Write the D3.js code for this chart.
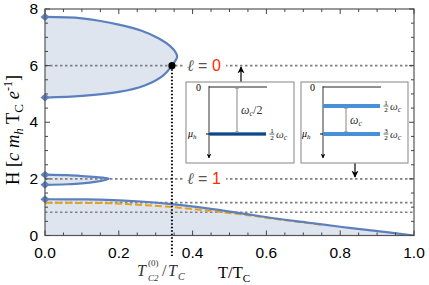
<!DOCTYPE html>
<html><head><meta charset="utf-8">
<script src="https://cdn.jsdelivr.net/npm/d3@7"></script>
<style>body{margin:0;background:#fff}svg{display:block}</style>
</head><body>
<svg id="c" width="429" height="285"></svg>
<script>
// ---- data ----
const xTicks = [0.0, 0.2, 0.4, 0.6, 0.8, 1.0];
const yTicks = [0, 2, 4, 6, 8];
const lobe0T = [0, 0.1, 0.2, 0.26, 0.31, 0.34, 0.355, 0.358, 0.352, 0.344, 0.32, 0.27, 0.2, 0.1, 0];
const lobe0H = [7.72, 7.67, 7.45, 7.24, 6.95, 6.68, 6.45, 6.3, 6.15, 6.0, 5.65, 5.3, 5.07, 4.93, 4.87];
const lobe1T = [0, 0.06, 0.1, 0.14, 0.163, 0.173, 0.163, 0.14, 0.1, 0.06, 0];
const lobe1H = [2.15, 2.13, 2.1, 2.06, 2.03, 2.0, 1.96, 1.9, 1.84, 1.81, 1.79];
const baseT = [0, 0.1, 0.17, 0.26, 0.35, 0.44, 0.53, 0.62, 0.71, 0.8, 0.89, 1.0];
const baseH = [1.28, 1.275, 1.26, 1.2, 1.1, 0.96, 0.79, 0.61, 0.46, 0.31, 0.17, 0];
const orangeT = [0, 0.1, 0.17, 0.26, 0.35, 0.44, 0.53, 0.62, 0.7, 0.75];
const orangeH = [1.16, 1.15, 1.14, 1.08, 1.0, 0.88, 0.75, 0.59, 0.46, 0.38];
const hLevels = [6, 2, 1.16, 0.82];
const tc2 = 0.344;

const svg = d3.select("#c");
const L = 45, R = 414, T = 9, B = 235.5;
const x = d3.scaleLinear().domain([0, 1]).range([L, R]);
const y = d3.scaleLinear().domain([0, 8]).range([B, T]);
const blue = "#5b80bd", fill = "#dfe5ef", orange = "#e5a21f";
const serif = "Liberation Serif, serif", sans = "Liberation Sans, Arial, sans-serif";

const defs = svg.append("defs");
defs.append("clipPath").attr("id", "pc").append("rect")
  .attr("x", L).attr("y", T).attr("width", R - L).attr("height", B - T);
defs.append("marker").attr("id", "ah").attr("viewBox", "0 0 10 10")
  .attr("refX", 9).attr("refY", 5).attr("markerWidth", 6).attr("markerHeight", 6)
  .attr("orient", "auto").append("path").attr("d", "M0,0 L10,5 L0,10 L3,5 Z").attr("fill", "#000");

const g = svg.append("g").attr("clip-path", "url(#pc)");
const zip = (a, b) => a.map((v, i) => [v, b[i]]);
const line = d3.line().x(d => x(d[0])).y(d => y(d[1])).curve(d3.curveCatmullRom.alpha(0.5));

const baseArea = d3.area().x(d => x(d[0])).y0(y(0)).y1(d => y(d[1])).curve(d3.curveCatmullRom.alpha(0.5));
g.append("path").attr("d", baseArea(zip(baseT, baseH))).attr("fill", fill);
g.append("path").attr("d", line(zip(lobe0T, lobe0H)) + "Z").attr("fill", fill);
g.append("path").attr("d", line(zip(lobe1T, lobe1H)) + "Z").attr("fill", fill);

hLevels.forEach(h => {
  g.append("line").attr("x1", x(0)).attr("x2", x(1)).attr("y1", y(h)).attr("y2", y(h))
    .attr("stroke", "#808080").attr("stroke-width", 1.6).attr("stroke-dasharray", "2.5,2.5");
});

g.append("path").attr("d", line(zip(lobe0T, lobe0H))).attr("fill", "none").attr("stroke", blue).attr("stroke-width", 2.2);
g.append("path").attr("d", line(zip(lobe1T, lobe1H))).attr("fill", "none").attr("stroke", blue).attr("stroke-width", 2.2);
g.append("path").attr("d", line(zip(orangeT, orangeH))).attr("fill", "none").attr("stroke", orange)
  .attr("stroke-width", 2).attr("stroke-dasharray", "7,3");
g.append("path").attr("d", line(zip(baseT, baseH))).attr("fill", "none").attr("stroke", blue).attr("stroke-width", 2.2);

const diamonds = [[0, lobe0H[0]], [0, lobe0H[lobe0H.length - 1]], [0, lobe1H[0]], [0, lobe1H[lobe1H.length - 1]], [0, baseH[0]]];
svg.selectAll(".dm").data(diamonds).enter().append("path")
  .attr("d", "M-4.5,0 L0,-4 L4.5,0 L0,4 Z")
  .attr("transform", d => `translate(${x(d[0])},${y(d[1])})`).attr("fill", blue);

svg.append("line").attr("x1", x(tc2)).attr("x2", x(tc2)).attr("y1", y(6)).attr("y2", 256)
  .attr("stroke", "#000").attr("stroke-width", 2).attr("stroke-dasharray", "1.5,2");
svg.append("circle").attr("cx", x(tc2)).attr("cy", y(6)).attr("r", 3.6).attr("fill", "#000");

svg.append("rect").attr("x", L).attr("y", T).attr("width", R - L).attr("height", B - T)
  .attr("fill", "none").attr("stroke", "#555").attr("stroke-width", 1.2);

const ax = svg.append("g").attr("stroke", "#444").attr("stroke-width", 1);
d3.range(0, 1.0001, 0.05).forEach((t, i) => {
  const len = i % 4 === 0 ? 5 : 3;
  ax.append("line").attr("x1", x(t)).attr("x2", x(t)).attr("y1", B).attr("y2", B - len);
  ax.append("line").attr("x1", x(t)).attr("x2", x(t)).attr("y1", T).attr("y2", T + len);
});
d3.range(0, 8.0001, 0.5).forEach((h, i) => {
  const len = i % 4 === 0 ? 5 : 3;
  ax.append("line").attr("y1", y(h)).attr("y2", y(h)).attr("x1", L).attr("x2", L + len);
  ax.append("line").attr("y1", y(h)).attr("y2", y(h)).attr("x1", R).attr("x2", R - len);
});
svg.selectAll(".xt").data(xTicks).enter().append("text")
  .attr("x", d => x(d)).attr("y", 257.5).attr("text-anchor", "middle")
  .attr("font-family", sans).attr("font-size", 15.5).text(d => d.toFixed(1));
svg.selectAll(".yt").data(yTicks).enter().append("text")
  .attr("x", 38).attr("y", d => y(d) + 5).attr("text-anchor", "end")
  .attr("font-family", sans).attr("font-size", 15.5).text(d => d);

const yl = svg.append("text").attr("transform", "translate(19,130) rotate(-90)").attr("text-anchor", "middle")
  .attr("font-family", serif).attr("font-size", 18.5);
yl.append("tspan").text("H [");
yl.append("tspan").attr("font-style", "italic").text("c m");
yl.append("tspan").attr("font-style", "italic").attr("font-size", 13).attr("dy", 4).text("h");
yl.append("tspan").attr("dy", -4).text(" T");
yl.append("tspan").attr("font-size", 13).attr("dy", 4).text("C");
yl.append("tspan").attr("dy", -4).attr("font-style", "italic").text(" e");
yl.append("tspan").attr("font-size", 12).attr("dy", -7).text("-1");
yl.append("tspan").attr("dy", 7).text("]");

const xl = svg.append("text").attr("x", 218).attr("y", 278).attr("font-family", serif).attr("font-size", 16.5);
xl.append("tspan").text("T/T");
xl.append("tspan").attr("font-size", 11).attr("dy", 4).text("C");

const tb = 276;
const tlab = (xp, yp, txt, size, italic) => svg.append("text").attr("x", xp).attr("y", yp)
  .attr("font-family", serif).attr("font-size", size).attr("font-style", italic ? "italic" : "normal")
  .attr("fill", "#333").text(txt);
tlab(137, tb, "T", 16, true);
tlab(148, tb - 10, "(0)", 9, false);
tlab(148, tb + 5, "C2", 9, true);
tlab(162, tb, "/", 16, false);
tlab(168, tb, "T", 16, true);
tlab(178, tb + 4, "C", 10, true);

function ellLabel(h, num, xp) {
  svg.append("rect").attr("x", xp - 3).attr("y", y(h) - 9).attr("width", 42).attr("height", 17).attr("fill", "#fff");
  const t = svg.append("text").attr("x", xp).attr("y", y(h) + 5.5).attr("font-size", 16).attr("fill", "#555");
  t.append("tspan").attr("font-family", serif).attr("font-style", "italic").text("ℓ");
  t.append("tspan").attr("font-family", sans).text(" = ");
  t.append("tspan").attr("font-family", sans).attr("fill", "#ff2a00").text(num);
}
ellLabel(6, "0", 187);
ellLabel(2, "1", 187);

svg.append("line").attr("x1", 241).attr("x2", 241).attr("y1", 82).attr("y2", 67)
  .attr("stroke", "#000").attr("stroke-width", 1.2).attr("marker-end", "url(#ah)");
svg.append("line").attr("x1", 355).attr("x2", 355).attr("y1", 163).attr("y2", 177)
  .attr("stroke", "#000").attr("stroke-width", 1.2).attr("marker-end", "url(#ah)");

function frac(gp, xp, yp, n, d) {
  gp.append("text").attr("x", xp).attr("y", yp - 1).attr("font-size", 7).attr("text-anchor", "middle")
    .attr("font-family", serif).text(n);
  gp.append("line").attr("x1", xp - 2.5).attr("x2", xp + 2.5).attr("y1", yp).attr("y2", yp).attr("stroke", "#000").attr("stroke-width", 0.6);
  gp.append("text").attr("x", xp).attr("y", yp + 6).attr("font-size", 7).attr("text-anchor", "middle")
    .attr("font-family", serif).text(d);
}
function omega(gp, xp, yp, suffix, size) {
  const t = gp.append("text").attr("x", xp).attr("y", yp).attr("font-size", size || 11)
    .attr("font-family", serif).attr("font-style", "italic").attr("fill", "#333");
  t.append("tspan").text("ω");
  t.append("tspan").attr("font-size", 8).attr("dy", 2).text("c");
  if (suffix) t.append("tspan").attr("dy", -2).attr("font-style", "normal").text(suffix);
}
function inset(x0, x1, ax0, levels, gap, gapSuffix) {
  const gp = svg.append("g");
  gp.append("rect").attr("x", x0).attr("y", 82).attr("width", x1 - x0).attr("height", 81)
    .attr("fill", "#fff").attr("stroke", "#999").attr("stroke-width", 1.2);
  gp.append("line").attr("x1", ax0).attr("x2", ax0).attr("y1", 86).attr("y2", 158)
    .attr("stroke", "#000").attr("stroke-width", 0.8).attr("marker-end", "url(#ah)");
  gp.append("line").attr("x1", ax0).attr("x2", ax0 + 58).attr("y1", 87).attr("y2", 87).attr("stroke", "#222").attr("stroke-width", 1);
  gp.append("text").attr("x", ax0 - 13).attr("y", 91).attr("font-size", 10).attr("font-family", serif).text("0");
  const mu = gp.append("text").attr("x", ax0 - 21).attr("y", 137).attr("font-size", 10)
    .attr("font-family", serif).attr("font-style", "italic").attr("fill", "#000");
  mu.append("tspan").text("μ"); mu.append("tspan").attr("font-size", 7).attr("dy", 2).text("h");
  gp.append("line").attr("x1", ax0 - 3).attr("x2", ax0).attr("y1", 134).attr("y2", 134).attr("stroke", "#000");
  levels.forEach(l => {
    gp.append("line").attr("x1", ax0).attr("x2", ax0 + 57).attr("y1", l.y).attr("y2", l.y)
      .attr("stroke", "#4a90d9").attr("stroke-width", 4);
    if (l.dark) gp.append("line").attr("x1", ax0).attr("x2", ax0 + 57).attr("y1", l.y).attr("y2", l.y)
      .attr("stroke", "#1a2a44").attr("stroke-width", 1.5);
    frac(gp, ax0 + 63, l.y, l.n, l.d);
    omega(gp, ax0 + 67, l.y + 4);
  });
  gp.append("line").attr("x1", gap.x).attr("x2", gap.x).attr("y1", gap.y0).attr("y2", gap.y1).attr("stroke", "#888").attr("stroke-width", 1);
  [gap.y0, gap.y1].forEach(yy => gp.append("line").attr("x1", gap.x - 2).attr("x2", gap.x + 2).attr("y1", yy).attr("y2", yy).attr("stroke", "#888"));
  omega(gp, gap.x + 4, (gap.y0 + gap.y1) / 2 + 4, gapSuffix, 12);
}
inset(186, 294, 209, [{ y: 134, n: "1", d: "2", dark: true }], { x: 237, y0: 88, y1: 132 }, "/2");
inset(301, 408, 323, [{ y: 106, n: "1", d: "2" }, { y: 134, n: "3", d: "2" }], { x: 346, y0: 108, y1: 132 }, "");
</script>
</body></html>
